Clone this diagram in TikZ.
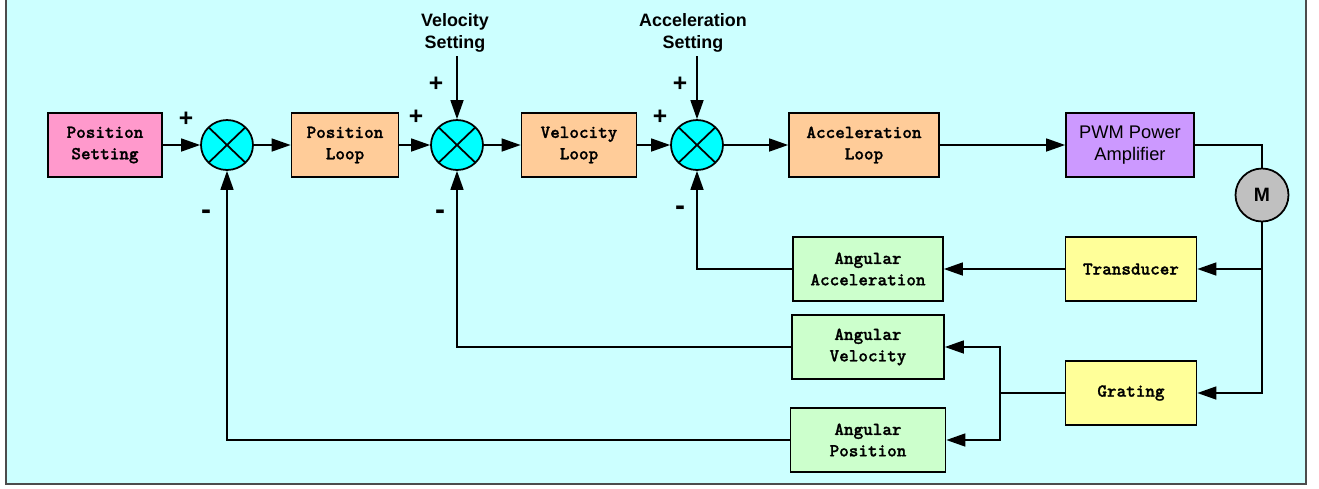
\documentclass[tikz,border=0pt]{standalone}
\usepackage{fontspec}
\setsansfont{Liberation Sans}
\newfontfamily\boxfont{lmmonolt10-bold.otf}[FakeBold=1.2]
\usetikzlibrary{positioning,shapes.geometric,arrows.meta}

\definecolor{bgcyan}{HTML}{CCFFFF}
\definecolor{sumcyan}{HTML}{00FFFF}
\definecolor{pinkbox}{HTML}{FF99CC}
\definecolor{orangebox}{HTML}{FFCC99}
\definecolor{purplebox}{HTML}{CC99FF}
\definecolor{yellowbox}{HTML}{FFFF99}
\definecolor{greenbox}{HTML}{CCFFCC}
\definecolor{motorgray}{HTML}{C0C0C0}

\tikzset{
  blk/.style={draw, line width=1pt, minimum height=1.29cm, inner sep=2pt,
    font=\boxfont\fontsize{10.4}{12.2}\selectfont},
  sumnode/.style={draw, ellipse, line width=1pt, fill=sumcyan,
    minimum width=1.04cm, minimum height=1cm, inner sep=0pt,
    path picture={\draw[line width=1pt]
      (path picture bounding box.north west) -- (path picture bounding box.south east)
      (path picture bounding box.south west) -- (path picture bounding box.north east);}},
  sgn/.style={font=\sffamily\bfseries\fontsize{14}{14}\selectfont, inner sep=0pt},
  setlbl/.style={font=\sffamily\bfseries\fontsize{10.2}{12.2}\selectfont, inner sep=2pt}
}

\begin{document}
\begin{tikzpicture}[x=0.02cm, y=-0.02cm, nodes = {align = center}, line width=0.9pt,
    >={Triangle[length=0.38cm,width=0.26cm]}]
  \useasboundingbox (0,0) rectangle (1319,488);
  % background panel
  \fill[bgcyan] (6,0) rectangle (1306,484);
  \draw[gray!60!black, line width=1pt] (6,0) -- (6,484) -- (1306,484) -- (1306,0);

  % forward path
  \node (possetting) [blk, fill=pinkbox, minimum width=2.28cm] at (105,145) {Position\\Setting};
  \node (sumpos) [sumnode] at (227,145) {};
  \node (posloop) [blk, fill=orangebox, minimum width=2.14cm] at (345,145) {Position\\Loop};
  \node (sumvel) [sumnode] at (457,145) {};
  \node (velloop) [blk, fill=orangebox, minimum width=2.3cm] at (579,145) {Velocity\\Loop};
  \node (sumacc) [sumnode] at (697,145) {};
  \node (accloop) [blk, fill=orangebox, minimum width=3cm] at (864,145) {Acceleration\\Loop};
  \node (pwm) [blk, fill=purplebox, minimum width=2.56cm,
    font=\sffamily\fontsize{10.4}{12.2}\selectfont] at (1130,145) {PWM Power\\Amplifier};
  \node (motor) [circle, draw, line width=1pt, fill=motorgray, minimum size=1.06cm, inner sep=0pt,
    font=\sffamily\bfseries\fontsize{11}{11}\selectfont] at (1262,195) {M};

  % setpoints
  \node (velset) [setlbl] at (455,33) {Velocity\\Setting};
  \node (accset) [setlbl] at (693,33) {Acceleration\\Setting};

  % feedback path
  \node (transducer) [blk, fill=yellowbox, minimum width=2.62cm] at (1131,269) {Transducer};
  \node (grating) [blk, fill=yellowbox, minimum width=2.62cm] at (1131,393) {Grating};
  \node (angacc) [blk, fill=greenbox, minimum width=3cm] at (868,269) {Angular\\Acceleration};
  \node (angvel) [blk, fill=greenbox, minimum width=3.04cm] at (868,347) {Angular\\Velocity};
  \node (angpos) [blk, fill=greenbox, minimum width=3.1cm] at (868,440) {Angular\\Position};

  \coordinate (tap) at (motor.south |- transducer.east);
  \coordinate (split) at (1000,393);

  % signs
  \node (plpos) [sgn] at (186,119) {+};
  \node (mipos) [sgn, font=\sffamily\bfseries\fontsize{17}{17}\selectfont] at (206,215) {-};
  \node (plvel) [sgn] at (416,117) {+};
  \node (plvelset) [sgn] at (436,84) {+};
  \node (mivel) [sgn, font=\sffamily\bfseries\fontsize{17}{17}\selectfont] at (440,215) {-};
  \node (placc) [sgn] at (660,117) {+};
  \node (placcset) [sgn] at (680,84) {+};
  \node (miacc) [sgn, font=\sffamily\bfseries\fontsize{17}{17}\selectfont] at (680,211) {-};

  \draw[->] (possetting) -- (sumpos);
  \draw[->] (sumpos) -- (posloop);
  \draw[->] (posloop) -- (sumvel);
  \draw[->] (sumvel) -- (velloop);
  \draw[->] (velloop) -- (sumacc);
  \draw[->] (sumacc) -- (accloop);
  \draw[->] (accloop) -- (pwm);
  \draw (pwm.east) -| (motor.north);

  \draw[->] (velset.south -| sumvel.north) -- (sumvel.north);
  \draw[->] (accset.south -| sumacc.north) -- (sumacc.north);

  \draw[->] (motor.south) |- (grating.east);
  \draw[->] (tap) -- (transducer.east);
  \draw[->] (transducer) -- (angacc);
  \draw (grating.west) -- (split);
  \draw[->] (split) |- (angvel.east);
  \draw[->] (split) |- (angpos.east);

  \draw[->] (angacc.west) -| (sumacc.south);
  \draw[->] (angvel.west) -| (sumvel.south);
  \draw[->] (angpos.west) -| (sumpos.south);
\end{tikzpicture}
\end{document}
